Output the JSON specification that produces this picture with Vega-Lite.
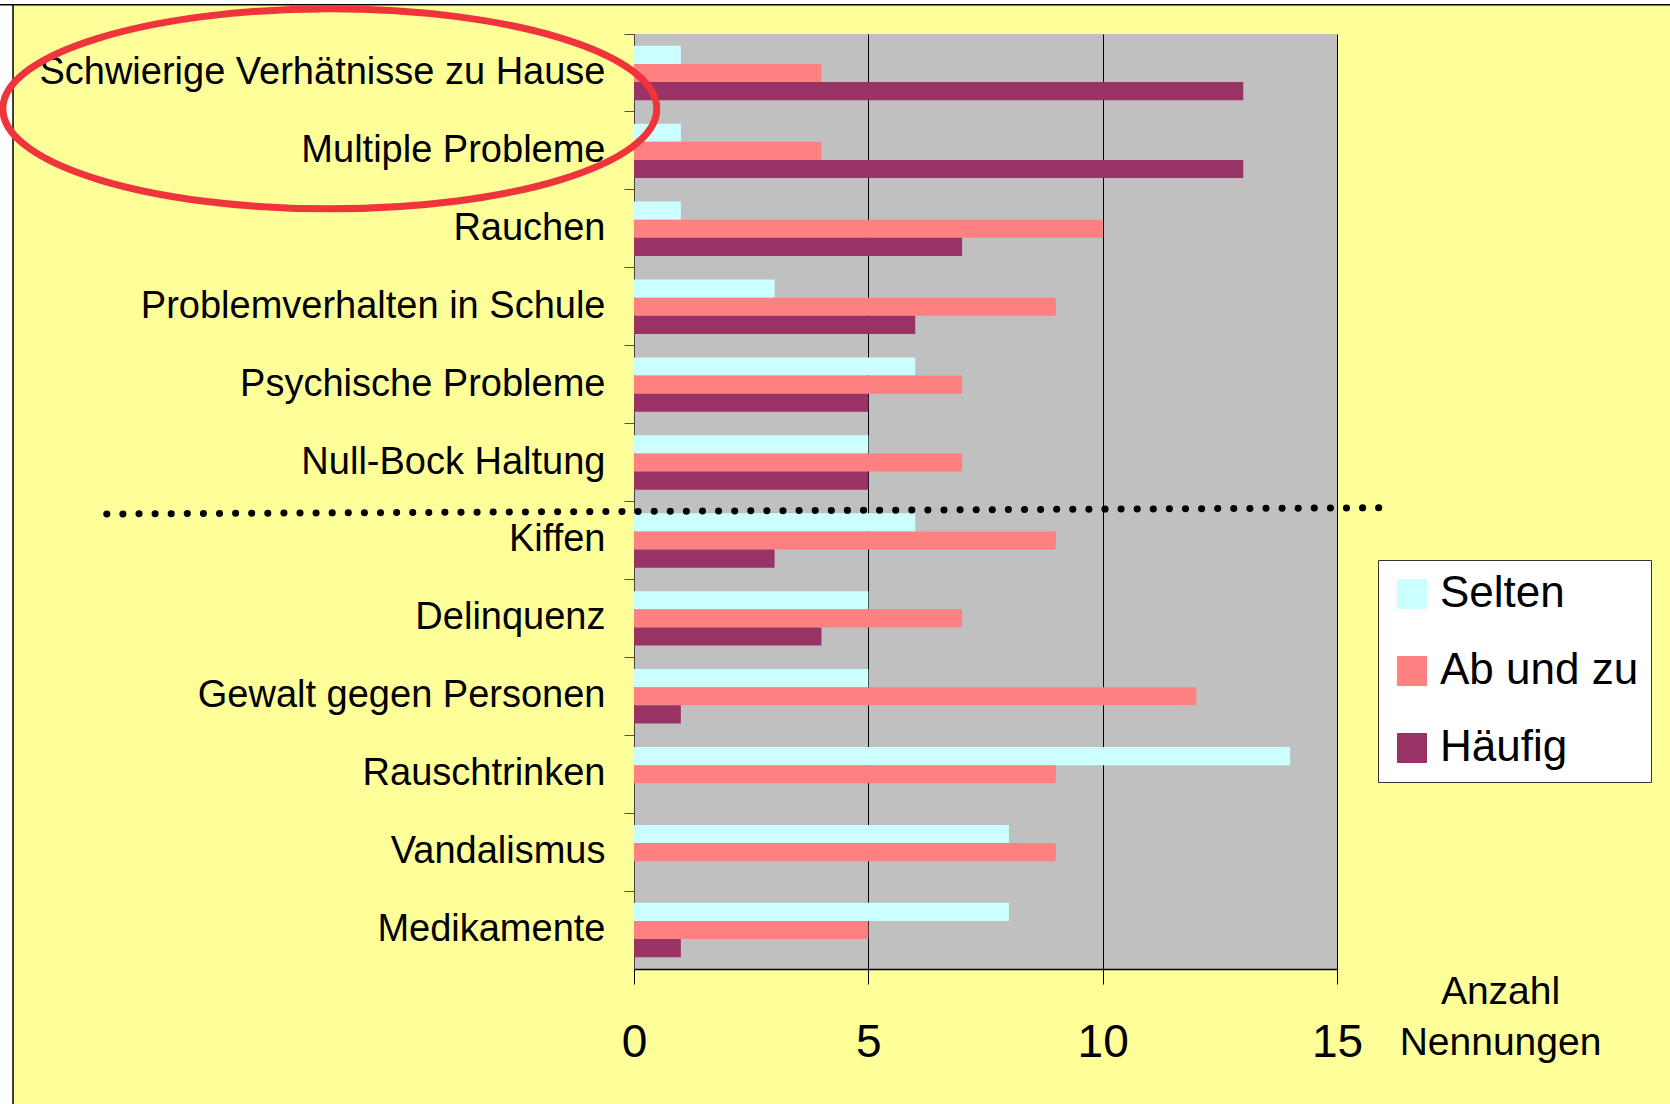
{
  "$schema": "https://vega.github.io/schema/vega-lite/v6.json",
  "autosize": {"type": "none"},
  "width": 703,
  "height": 935,
  "padding": {"left": 634, "top": 34, "right": 333, "bottom": 135},
  "background": "#FFFF99",
  "config": {"view": {"fill": "#C0C0C0", "stroke": null}, "font": "Liberation Sans"},
  "datasets": {
    "bars": [
      {"cat": "Schwierige Verhätnisse zu Hause", "freq": "Selten", "value": 1},
      {"cat": "Schwierige Verhätnisse zu Hause", "freq": "Ab und zu", "value": 4},
      {"cat": "Schwierige Verhätnisse zu Hause", "freq": "Häufig", "value": 13},
      {"cat": "Multiple Probleme", "freq": "Selten", "value": 1},
      {"cat": "Multiple Probleme", "freq": "Ab und zu", "value": 4},
      {"cat": "Multiple Probleme", "freq": "Häufig", "value": 13},
      {"cat": "Rauchen", "freq": "Selten", "value": 1},
      {"cat": "Rauchen", "freq": "Ab und zu", "value": 10},
      {"cat": "Rauchen", "freq": "Häufig", "value": 7},
      {"cat": "Problemverhalten in Schule", "freq": "Selten", "value": 3},
      {"cat": "Problemverhalten in Schule", "freq": "Ab und zu", "value": 9},
      {"cat": "Problemverhalten in Schule", "freq": "Häufig", "value": 6},
      {"cat": "Psychische Probleme", "freq": "Selten", "value": 6},
      {"cat": "Psychische Probleme", "freq": "Ab und zu", "value": 7},
      {"cat": "Psychische Probleme", "freq": "Häufig", "value": 5},
      {"cat": "Null-Bock Haltung", "freq": "Selten", "value": 5},
      {"cat": "Null-Bock Haltung", "freq": "Ab und zu", "value": 7},
      {"cat": "Null-Bock Haltung", "freq": "Häufig", "value": 5},
      {"cat": "Kiffen", "freq": "Selten", "value": 6},
      {"cat": "Kiffen", "freq": "Ab und zu", "value": 9},
      {"cat": "Kiffen", "freq": "Häufig", "value": 3},
      {"cat": "Delinquenz", "freq": "Selten", "value": 5},
      {"cat": "Delinquenz", "freq": "Ab und zu", "value": 7},
      {"cat": "Delinquenz", "freq": "Häufig", "value": 4},
      {"cat": "Gewalt gegen Personen", "freq": "Selten", "value": 5},
      {"cat": "Gewalt gegen Personen", "freq": "Ab und zu", "value": 12},
      {"cat": "Gewalt gegen Personen", "freq": "Häufig", "value": 1},
      {"cat": "Rauschtrinken", "freq": "Selten", "value": 14},
      {"cat": "Rauschtrinken", "freq": "Ab und zu", "value": 9},
      {"cat": "Rauschtrinken", "freq": "Häufig", "value": 0},
      {"cat": "Vandalismus", "freq": "Selten", "value": 8},
      {"cat": "Vandalismus", "freq": "Ab und zu", "value": 9},
      {"cat": "Vandalismus", "freq": "Häufig", "value": 0},
      {"cat": "Medikamente", "freq": "Selten", "value": 8},
      {"cat": "Medikamente", "freq": "Ab und zu", "value": 5},
      {"cat": "Medikamente", "freq": "Häufig", "value": 1}
    ],
    "frame": [
      {"xa": -20, "xb": -13.25, "ya": -2, "yb": 14},
      {"xa": -20, "xb": 30, "ya": 12.375, "yb": 14}
    ],
    "divider": [
      {"xa": -11.25, "xb": 16.1, "ya": 5.84, "yb": 5.92}
    ],
    "marker": [
      {"cx": -6.49, "cy": 11.04}
    ]
  },
  "layer": [
    {
      "data": {"name": "frame"},
      "mark": {"type": "rect", "fill": "white", "stroke": "black", "strokeWidth": 1.5},
      "encoding": {
        "x": {"field": "xa", "type": "quantitative", "scale": {"domain": [0, 15], "nice": false}},
        "x2": {"field": "xb"},
        "y": {"field": "ya", "type": "quantitative", "scale": {"domain": [0, 12], "nice": false, "zero": false}, "axis": null},
        "y2": {"field": "yb"}
      }
    },
    {
      "data": {"name": "bars"},
      "mark": {"type": "bar"},
      "encoding": {
        "x": {
          "field": "value", "type": "quantitative",
          "scale": {"domain": [0, 15], "nice": false},
          "axis": {
            "values": [0, 5, 10, 15], "labelFlush": false,
            "grid": true, "gridColor": "black", "gridWidth": 1, "gridOpacity": 1,
            "tickSize": 15, "tickColor": "black", "tickWidth": 1,
            "domainColor": "black", "domainWidth": 1.5,
            "labelFontSize": 46, "labelColor": "black", "labelPadding": 36,
            "title": ["Anzahl", "Nennungen"],
            "titleX": 866, "titleY": 22, "titleAlign": "center", "titleBaseline": "middle",
            "titleFontSize": 39, "titleFontWeight": "normal",
            "titleColor": "black", "titleLineHeight": 51
          }
        },
        "y": {
          "field": "cat", "type": "nominal", "sort": null,
          "scale": {"paddingInner": 0, "paddingOuter": 0},
          "axis": {
            "title": null, "bandPosition": 0,
            "tickSize": 10, "tickColor": "#555533", "domainColor": "#444",
            "labelPadding": 19, "labelFontSize": 38,
            "labelColor": "black", "labelLimit": 800, "labelBaseline": "middle"
          }
        },
        "yOffset": {
          "field": "freq", "type": "nominal", "sort": ["Selten", "Ab und zu", "Häufig"],
          "scale": {"paddingInner": 0, "paddingOuter": 0.647}
        },
        "color": {
          "field": "freq", "type": "nominal",
          "scale": {"domain": ["Selten", "Ab und zu", "Häufig"], "range": ["#CCFFFF", "#FF8080", "#993366"]},
          "legend": {
            "title": null, "orient": "none", "legendX": 744, "legendY": 526,
            "padding": 12, "fillColor": "white", "strokeColor": "#333",
            "symbolType": "square", "symbolSize": 900, "symbolStrokeWidth": 0, "symbolOpacity": 1,
            "labelFontSize": 44, "labelColor": "black",
            "labelOffset": 6, "rowPadding": 33, "labelLimit": 400
          }
        }
      }
    },
    {
      "data": {"name": "divider"},
      "mark": {"type": "rule", "color": "black", "strokeWidth": 7, "strokeDash": [0.1, 16], "strokeCap": "round"},
      "encoding": {
        "x": {"field": "xa", "type": "quantitative", "scale": {"domain": [0, 15], "nice": false}},
        "x2": {"field": "xb"},
        "y": {"field": "ya", "type": "quantitative", "scale": {"domain": [0, 12], "nice": false, "zero": false}, "axis": null},
        "y2": {"field": "yb"}
      }
    },
    {
      "data": {"name": "marker"},
      "mark": {
        "type": "point",
        "shape": "M -1 0 A 1 0.306 0 1 1 1 0 A 1 0.306 0 1 1 -1 0 Z",
        "size": 427716, "filled": false, "stroke": "#F0343C", "strokeWidth": 7, "opacity": 1
      },
      "encoding": {
        "x": {"field": "cx", "type": "quantitative", "scale": {"domain": [0, 15], "nice": false}},
        "y": {"field": "cy", "type": "quantitative", "scale": {"domain": [0, 12], "nice": false, "zero": false}, "axis": null}
      }
    }
  ],
  "resolve": {"scale": {"y": "independent"}}
}
